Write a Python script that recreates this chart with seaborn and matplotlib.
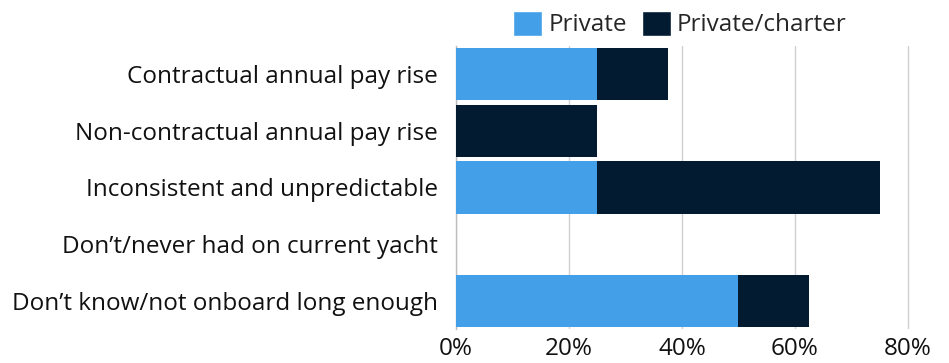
import matplotlib
matplotlib.use("Agg")
import matplotlib.pyplot as plt
import seaborn as sns
import pandas as pd
from matplotlib.patches import Patch
from matplotlib.ticker import PercentFormatter

categories = [
    "Contractual annual pay rise",
    "Non-contractual annual pay rise",
    "Inconsistent and unpredictable",
    "Don\u2019t/never had on current yacht",
    "Don\u2019t know/not onboard long enough",
]
private = [25.0, 0.0, 25.0, 0.0, 50.0]
private_charter = [12.5, 25.0, 50.0, 0.0, 12.5]
x_ticks = [0, 20, 40, 60, 80]

blue = "#439FE8"
navy = "#031B30"

sns.set_theme(style="white")
plt.rcParams["font.family"] = ["Open Sans", "DejaVu Sans"]

df = pd.DataFrame({
    "category": categories,
    "private": private,
    "total": [p + c for p, c in zip(private, private_charter)],
})

fig = plt.figure(figsize=(9.49, 3.63), dpi=100)
ax = fig.add_axes([0.4805, 0.094, 0.5, 0.779])

sns.barplot(data=df, x="total", y="category", orient="h", color=navy,
            saturation=1, width=0.92, ax=ax, zorder=3, linewidth=0)
sns.barplot(data=df, x="private", y="category", orient="h", color=blue,
            saturation=1, width=0.92, ax=ax, zorder=4, linewidth=0)

ax.set_xlim(0, 84)
ax.set_xticks(x_ticks)
ax.xaxis.set_major_formatter(PercentFormatter(decimals=0))
ax.set_xlabel("")
ax.set_ylabel("")
ax.grid(axis="x", color="#D0D0D0", linewidth=1, zorder=0)
for s in ["top", "right", "bottom"]:
    ax.spines[s].set_visible(False)
ax.spines["left"].set_color("#BDBDBD")
ax.spines["left"].set_linewidth(1)
ax.tick_params(axis="both", length=0, labelsize=17.5, colors="#111111")
ax.tick_params(axis="y", pad=13)
ax.tick_params(axis="x", pad=6)

handles = [Patch(facecolor=blue, label="Private"),
           Patch(facecolor=navy, label="Private/charter")]
fig.legend(handles=handles, loc="center", bbox_to_anchor=(0.7165, 0.934),
           ncol=2, frameon=False, fontsize=17.5, handlelength=1.2,
           handleheight=1.2, handletextpad=0.25, columnspacing=0.6)

fig.savefig("out.png", dpi=100)
